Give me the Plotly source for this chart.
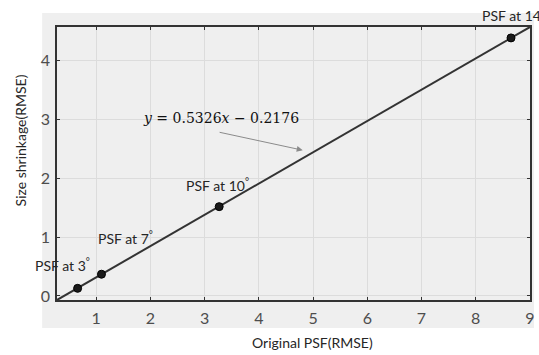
import plotly.graph_objects as go

# Fitted regression line: size shrinkage vs original PSF (RMSE)
slope = 0.5326
intercept = -0.2176
x_min, x_max = 0.28, 9.0

# Measured PSFs at different field angles
point_x = [0.66, 1.1, 3.27, 8.65]
point_y = [0.13, 0.37, 1.52, 4.39]
point_labels = ["PSF at 3<sup>°</sup>", "PSF at 7<sup>°</sup>", "PSF at 10<sup>°</sup>", "PSF at 14<sup>°</sup>"]
label_pos_x = [-0.16, 0.99, 2.62, 8.07]
label_pos_y = [0.53, 1.0, 1.89, 4.78]

x_ticks = [1, 2, 3, 4, 5, 6, 7, 8, 9]
y_ticks = [0, 1, 2, 3, 4]

line_x = [x_min, x_max]
line_y = [slope * v + intercept for v in line_x]
y_min, y_max = line_y

label_font = dict(family="Lato, 'Open Sans', sans-serif", size=14, color="#262626")
tick_font = dict(family="Lato, 'Open Sans', sans-serif", size=16, color="#4d4d4d")

W, H = 539, 355
L, R, T, B = 57, 4, 27, 55
pw, ph = W - L - R, H - T - B


def data_to_paper(x, y):
    # labels may sit outside the axis range, so place them in paper units
    return (x - x_min) / (x_max - x_min), (y - y_min) / (y_max - y_min)


def px_to_paper(px, py):
    return (px - L) / pw, (H - B - py) / ph


fig = go.Figure()
fig.add_trace(go.Scatter(
    x=line_x, y=line_y, mode="lines",
    line=dict(color="#333333", width=2), hoverinfo="skip", cliponaxis=False,
))
fig.add_trace(go.Scatter(
    x=point_x, y=point_y, mode="markers",
    marker=dict(size=8, color="#1a1a1a", line=dict(color="#000000", width=1)),
    cliponaxis=False,
))

annotations = []
for lx, ly, txt in zip(label_pos_x, label_pos_y, point_labels):
    px, py = data_to_paper(lx, ly)
    annotations.append(dict(x=px, y=py, xref="paper", yref="paper", text=txt,
                            showarrow=False, xanchor="left", yanchor="middle",
                            font=label_font))

# Equation text and its pointer arrow
annotations.append(dict(
    x=1.83, y=3.03, xref="x", yref="y",
    text="<i>y</i> = 0.5326<i>x</i> − 0.2176",
    showarrow=False, xanchor="left", yanchor="middle",
    font=dict(family="'DejaVu Serif', 'Liberation Serif', serif", size=14, color="#111111"),
))
annotations.append(dict(
    x=4.81, y=2.48, xref="x", yref="y",
    ax=3.25, ay=2.79, axref="x", ayref="y",
    text="", showarrow=True, arrowhead=2, arrowsize=1.2, arrowwidth=1,
    arrowcolor="#8a8a8a", standoff=0,
))

# Axis titles
tx, ty = px_to_paper(315, 343)
annotations.append(dict(x=tx, y=ty, xref="paper", yref="paper", text="Original PSF(RMSE)",
                        showarrow=False, xanchor="center", yanchor="middle", font=label_font))
tx, ty = px_to_paper(20, 140)
annotations.append(dict(x=tx, y=ty, xref="paper", yref="paper", text="Size shrinkage(RMSE)",
                        showarrow=False, xanchor="center", yanchor="middle",
                        textangle=-90, font=label_font))

gx0, gy0 = px_to_paper(42, 328)
gx1, gy1 = px_to_paper(539, 13)

fig.update_layout(
    width=W, height=H,
    margin=dict(l=L, r=R, t=T, b=B),
    paper_bgcolor="white", plot_bgcolor="white",
    showlegend=False,
    annotations=annotations,
    shapes=[dict(type="rect", xref="paper", yref="paper",
                 x0=gx0, y0=gy0, x1=gx1, y1=gy1,
                 fillcolor="#efefef", line=dict(width=0), layer="below")],
    xaxis=dict(range=[x_min, x_max], tickvals=x_ticks, ticks="inside", ticklen=3,
               tickcolor="#333333", showline=True, linecolor="#333333", linewidth=1.5,
               mirror="ticks", showgrid=True, gridcolor="#dcdcdc", gridwidth=1,
               zeroline=False, tickfont=tick_font, ticklabelstandoff=3),
    yaxis=dict(range=[y_min, y_max], tickvals=y_ticks, ticks="inside", ticklen=3,
               tickcolor="#333333", showline=True, linecolor="#333333", linewidth=1.5,
               mirror="ticks", showgrid=True, gridcolor="#dcdcdc", gridwidth=1,
               zeroline=False, tickfont=tick_font, ticklabelstandoff=2),
)

fig.write_html("out.html")
